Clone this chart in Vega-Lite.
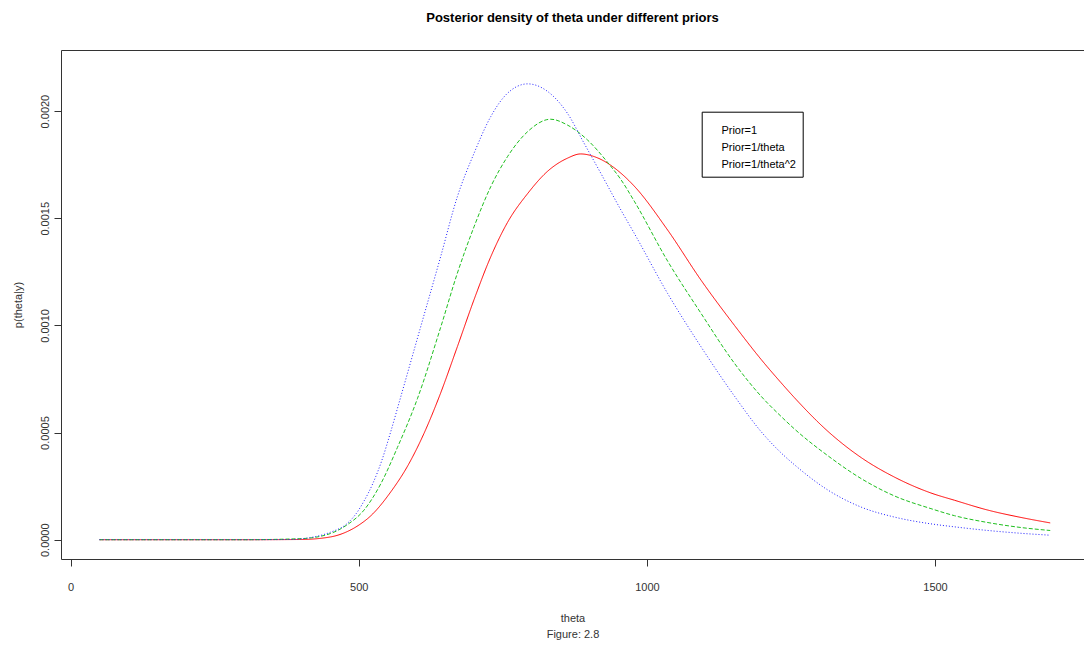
{
  "$schema": "https://vega.github.io/schema/vega-lite/v6.json",
  "width": 1023,
  "height": 509,
  "autosize": {"type": "none"},
  "padding": {"left": 61, "top": 50, "right": 0, "bottom": 87},
  "background": "white",
  "title": {
    "text": "Posterior density of theta under different priors",
    "font": "Liberation Sans",
    "fontSize": 13,
    "fontWeight": "bold",
    "color": "#000000",
    "anchor": "middle",
    "offset": 25
  },
  "data": {
    "values": [
      {"prior": "Prior=1", "theta": 50, "density": 0},
      {"prior": "Prior=1", "theta": 300, "density": 0},
      {"prior": "Prior=1", "theta": 400, "density": 0.000001},
      {"prior": "Prior=1", "theta": 451, "density": 0.000013},
      {"prior": "Prior=1", "theta": 480, "density": 0.000038},
      {"prior": "Prior=1", "theta": 500, "density": 0.000068},
      {"prior": "Prior=1", "theta": 521, "density": 0.000112},
      {"prior": "Prior=1", "theta": 556, "density": 0.000225},
      {"prior": "Prior=1", "theta": 585, "density": 0.000345},
      {"prior": "Prior=1", "theta": 613, "density": 0.000495},
      {"prior": "Prior=1", "theta": 640, "density": 0.00067},
      {"prior": "Prior=1", "theta": 671, "density": 0.0009},
      {"prior": "Prior=1", "theta": 700, "density": 0.00112},
      {"prior": "Prior=1", "theta": 729, "density": 0.00132},
      {"prior": "Prior=1", "theta": 758, "density": 0.00148},
      {"prior": "Prior=1", "theta": 793, "density": 0.001615},
      {"prior": "Prior=1", "theta": 828, "density": 0.00172},
      {"prior": "Prior=1", "theta": 862, "density": 0.00178},
      {"prior": "Prior=1", "theta": 885, "density": 0.0018},
      {"prior": "Prior=1", "theta": 914, "density": 0.001782},
      {"prior": "Prior=1", "theta": 955, "density": 0.00171},
      {"prior": "Prior=1", "theta": 978, "density": 0.00165},
      {"prior": "Prior=1", "theta": 1036, "density": 0.001445},
      {"prior": "Prior=1", "theta": 1094, "density": 0.001211},
      {"prior": "Prior=1", "theta": 1152, "density": 0.001},
      {"prior": "Prior=1", "theta": 1198, "density": 0.000842},
      {"prior": "Prior=1", "theta": 1233, "density": 0.000732},
      {"prior": "Prior=1", "theta": 1256, "density": 0.000663},
      {"prior": "Prior=1", "theta": 1314, "density": 0.000506},
      {"prior": "Prior=1", "theta": 1372, "density": 0.000383},
      {"prior": "Prior=1", "theta": 1429, "density": 0.000293},
      {"prior": "Prior=1", "theta": 1493, "density": 0.000218},
      {"prior": "Prior=1", "theta": 1534, "density": 0.000184},
      {"prior": "Prior=1", "theta": 1592, "density": 0.000138},
      {"prior": "Prior=1", "theta": 1649, "density": 0.000104},
      {"prior": "Prior=1", "theta": 1700, "density": 0.0000784},

      {"prior": "Prior=1/theta", "theta": 50, "density": 0},
      {"prior": "Prior=1/theta", "theta": 300, "density": 0},
      {"prior": "Prior=1/theta", "theta": 400, "density": 0.000005},
      {"prior": "Prior=1/theta", "theta": 451, "density": 0.000029},
      {"prior": "Prior=1/theta", "theta": 480, "density": 0.00007},
      {"prior": "Prior=1/theta", "theta": 509, "density": 0.000138},
      {"prior": "Prior=1/theta", "theta": 538, "density": 0.00026},
      {"prior": "Prior=1/theta", "theta": 567, "density": 0.00043},
      {"prior": "Prior=1/theta", "theta": 602, "density": 0.00066},
      {"prior": "Prior=1/theta", "theta": 642, "density": 0.00099},
      {"prior": "Prior=1/theta", "theta": 671, "density": 0.001243},
      {"prior": "Prior=1/theta", "theta": 700, "density": 0.00146},
      {"prior": "Prior=1/theta", "theta": 729, "density": 0.001647},
      {"prior": "Prior=1/theta", "theta": 758, "density": 0.001787},
      {"prior": "Prior=1/theta", "theta": 793, "density": 0.001904},
      {"prior": "Prior=1/theta", "theta": 833, "density": 0.001962},
      {"prior": "Prior=1/theta", "theta": 862, "density": 0.001935},
      {"prior": "Prior=1/theta", "theta": 897, "density": 0.001865},
      {"prior": "Prior=1/theta", "theta": 932, "density": 0.00176},
      {"prior": "Prior=1/theta", "theta": 955, "density": 0.00168},
      {"prior": "Prior=1/theta", "theta": 978, "density": 0.00158},
      {"prior": "Prior=1/theta", "theta": 1036, "density": 0.0013},
      {"prior": "Prior=1/theta", "theta": 1094, "density": 0.001056},
      {"prior": "Prior=1/theta", "theta": 1152, "density": 0.000823},
      {"prior": "Prior=1/theta", "theta": 1198, "density": 0.00067},
      {"prior": "Prior=1/theta", "theta": 1233, "density": 0.000575},
      {"prior": "Prior=1/theta", "theta": 1256, "density": 0.000517},
      {"prior": "Prior=1/theta", "theta": 1314, "density": 0.000392},
      {"prior": "Prior=1/theta", "theta": 1372, "density": 0.000285},
      {"prior": "Prior=1/theta", "theta": 1429, "density": 0.000205},
      {"prior": "Prior=1/theta", "theta": 1493, "density": 0.000145},
      {"prior": "Prior=1/theta", "theta": 1534, "density": 0.000112},
      {"prior": "Prior=1/theta", "theta": 1592, "density": 0.00008},
      {"prior": "Prior=1/theta", "theta": 1649, "density": 0.000057},
      {"prior": "Prior=1/theta", "theta": 1700, "density": 0.000043},

      {"prior": "Prior=1/theta^2", "theta": 50, "density": 0},
      {"prior": "Prior=1/theta^2", "theta": 300, "density": 0},
      {"prior": "Prior=1/theta^2", "theta": 380, "density": 0.000001},
      {"prior": "Prior=1/theta^2", "theta": 400, "density": 0.000004},
      {"prior": "Prior=1/theta^2", "theta": 422, "density": 0.000013},
      {"prior": "Prior=1/theta^2", "theta": 451, "density": 0.000035},
      {"prior": "Prior=1/theta^2", "theta": 480, "density": 0.000076},
      {"prior": "Prior=1/theta^2", "theta": 495, "density": 0.00012},
      {"prior": "Prior=1/theta^2", "theta": 509, "density": 0.00018},
      {"prior": "Prior=1/theta^2", "theta": 524, "density": 0.00026},
      {"prior": "Prior=1/theta^2", "theta": 540, "density": 0.00037},
      {"prior": "Prior=1/theta^2", "theta": 555, "density": 0.0005},
      {"prior": "Prior=1/theta^2", "theta": 570, "density": 0.00064},
      {"prior": "Prior=1/theta^2", "theta": 606, "density": 0.00098},
      {"prior": "Prior=1/theta^2", "theta": 642, "density": 0.00132},
      {"prior": "Prior=1/theta^2", "theta": 671, "density": 0.0016},
      {"prior": "Prior=1/theta^2", "theta": 700, "density": 0.001803},
      {"prior": "Prior=1/theta^2", "theta": 729, "density": 0.001974},
      {"prior": "Prior=1/theta^2", "theta": 758, "density": 0.002083},
      {"prior": "Prior=1/theta^2", "theta": 793, "density": 0.002127},
      {"prior": "Prior=1/theta^2", "theta": 828, "density": 0.002091},
      {"prior": "Prior=1/theta^2", "theta": 862, "density": 0.00199},
      {"prior": "Prior=1/theta^2", "theta": 891, "density": 0.00185},
      {"prior": "Prior=1/theta^2", "theta": 920, "density": 0.00171},
      {"prior": "Prior=1/theta^2", "theta": 955, "density": 0.001538},
      {"prior": "Prior=1/theta^2", "theta": 978, "density": 0.00143},
      {"prior": "Prior=1/theta^2", "theta": 1036, "density": 0.001149},
      {"prior": "Prior=1/theta^2", "theta": 1094, "density": 0.0009},
      {"prior": "Prior=1/theta^2", "theta": 1152, "density": 0.00067},
      {"prior": "Prior=1/theta^2", "theta": 1198, "density": 0.000505},
      {"prior": "Prior=1/theta^2", "theta": 1233, "density": 0.000405},
      {"prior": "Prior=1/theta^2", "theta": 1256, "density": 0.00035},
      {"prior": "Prior=1/theta^2", "theta": 1314, "density": 0.000232},
      {"prior": "Prior=1/theta^2", "theta": 1372, "density": 0.000152},
      {"prior": "Prior=1/theta^2", "theta": 1429, "density": 0.000106},
      {"prior": "Prior=1/theta^2", "theta": 1493, "density": 0.000074},
      {"prior": "Prior=1/theta^2", "theta": 1534, "density": 0.00006},
      {"prior": "Prior=1/theta^2", "theta": 1592, "density": 0.000043},
      {"prior": "Prior=1/theta^2", "theta": 1649, "density": 0.00003},
      {"prior": "Prior=1/theta^2", "theta": 1700, "density": 0.000021}
    ]
  },
  "mark": {"type": "line", "strokeWidth": 1, "interpolate": "monotone", "clip": true},
  "encoding": {
    "x": {
      "field": "theta",
      "type": "quantitative",
      "scale": {"domain": [-16.8, 1758.6], "nice": false, "zero": false},
      "axis": {
        "values": [0, 500, 1000, 1500],
        "format": "d",
        "title": ["theta", "Figure: 2.8"],
        "titleLineHeight": 16,
        "titlePadding": 20,
        "labelPadding": 15
      }
    },
    "y": {
      "field": "density",
      "type": "quantitative",
      "scale": {"domain": [-0.00009, 0.002285], "nice": false, "zero": false},
      "axis": {
        "values": [0, 0.0005, 0.001, 0.0015, 0.002],
        "format": ".4f",
        "labelAngle": 270,
        "labelAlign": "center",
        "labelBaseline": "bottom",
        "labelPadding": 4,
        "title": "p(theta|y)",
        "titlePadding": 16
      }
    },
    "color": {
      "field": "prior",
      "type": "nominal",
      "scale": {
        "domain": ["Prior=1", "Prior=1/theta", "Prior=1/theta^2"],
        "range": ["#ff0000", "#1fbf1f", "#2020ff"]
      },
      "legend": {
        "orient": "none",
        "legendX": 640.7,
        "legendY": 61.7,
        "title": " ",
        "titleFontSize": 4,
        "titlePadding": 1.6,
        "padding": 6.7,
        "strokeColor": "#000000",
        "fillColor": "#ffffff",
        "symbolSize": 144,
        "symbolOpacity": 0,
        "labelOffset": -1,
        "rowPadding": 5,
        "labelFont": "Liberation Sans",
        "labelFontSize": 11,
        "labelColor": "#000000"
      }
    },
    "strokeDash": {
      "field": "prior",
      "type": "nominal",
      "scale": {
        "domain": ["Prior=1", "Prior=1/theta", "Prior=1/theta^2"],
        "range": [[1, 0], [4, 2], [1, 2]]
      },
      "legend": null
    }
  },
  "config": {
    "view": {"stroke": "#333333", "strokeWidth": 1},
    "axis": {
      "grid": false,
      "domain": false,
      "ticks": true,
      "tickSize": 7,
      "tickColor": "#333333",
      "labelFont": "Liberation Sans",
      "labelFontSize": 11,
      "labelColor": "#333333",
      "titleFont": "Liberation Sans",
      "titleFontSize": 11,
      "titleFontWeight": "normal",
      "titleColor": "#333333"
    }
  }
}
